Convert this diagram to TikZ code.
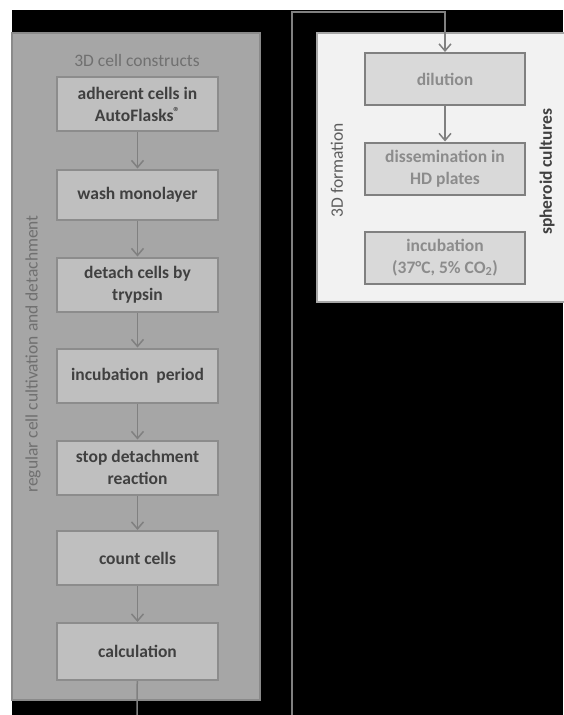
\documentclass[tikz,border=0pt]{standalone}
\usepackage{fontspec}
\setmainfont{Carlito}
\usetikzlibrary{arrows.meta}
\definecolor{leftfill}{HTML}{A6A6A6}
\definecolor{leftline}{HTML}{8A8A8A}
\definecolor{boxfill}{HTML}{BFBFBF}
\definecolor{boxline}{HTML}{8C8C8C}
\definecolor{darktext}{HTML}{404040}
\definecolor{headtext}{HTML}{707070}
\definecolor{rightfill}{HTML}{F2F2F2}
\definecolor{rightline}{HTML}{A6A6A6}
\definecolor{lightbox}{HTML}{D9D9D9}
\definecolor{lightline}{HTML}{808080}
\definecolor{lighttext}{HTML}{8C8C8C}
\definecolor{flowline}{HTML}{808080}
\begin{document}
\begin{tikzpicture}[x=1pt,y=-1pt,
    >={Straight Barb[length=7pt,width=12pt]},
    boxfont/.style={font=\fontsize{17.5}{22}\selectfont\bfseries},
    stepbox/.style={boxfont, draw=boxline, fill=boxfill, line width=2pt,
      minimum width=161pt, minimum height=54pt, inner sep=0pt,
      align=center, text=darktext},
    spherebox/.style={stepbox, draw=lightline, fill=lightbox, text=lighttext,
      minimum width=160pt, minimum height=52pt},
    sidelabel/.style={font=\fontsize{17.5}{22}\selectfont, inner sep=0pt},
    flow/.style={draw=flowline, line width=1.5pt}]
  \useasboundingbox (0,0) rectangle (563,715);
  % page edge and background
  \fill[white] (0,0) rectangle (563,715);
  \fill[black] (12,10) rectangle (563,715);
  % panels
  \draw[draw=leftline, fill=leftfill, line width=2pt] (12,33) rectangle (260,700);
  \draw[draw=rightline, fill=rightfill, line width=2pt] (317,33) rectangle (575,302);
  \node[sidelabel, text=headtext] (cellhead) at (137,60) {3D cell constructs};
  \node[sidelabel, text=headtext, font=\fontsize{17.5}{22}\selectfont, rotate=90] (cultlabel) at (33,354) {regular cell cultivation and detachment};
  \node[sidelabel, text=darktext!85!white, rotate=90] (formlabel) at (337,170) {3D formation};
  \node[sidelabel, text=darktext, font=\fontsize{17.5}{22}\selectfont\bfseries, rotate=90] (spherelabel) at (547,172) {spheroid cultures};
  % left chain
  \node[stepbox] (adherent) at (137.5,104) {adherent cells in\\AutoFlasks\raisebox{0.5ex}{\fontsize{13}{13}\selectfont ®}};
  \node[stepbox, minimum height=50pt] (wash) at (137.5,194.5) {wash monolayer};
  \node[stepbox] (detach) at (137.5,284.5) {detach cells by\\trypsin};
  \node[stepbox] (incper) at (137.5,375.5) {incubation~~period};
  \node[stepbox] (stopreact) at (137.5,467.5) {stop detachment\\reaction};
  \node[stepbox] (count) at (137.5,558) {count cells};
  \node[stepbox, minimum height=57pt] (calc) at (137.5,651.5) {calculation};
  \draw[flow, ->] (adherent) -- (wash);
  \draw[flow, ->] (wash) -- (detach);
  \draw[flow, ->] (detach) -- (incper);
  \draw[flow, ->] (incper) -- (stopreact);
  \draw[flow, ->] (stopreact) -- (count);
  \draw[flow, ->] (count) -- (calc);
  % right chain
  \node[spherebox] (dilution) at (445,79) {dilution};
  \node[spherebox] (dissem) at (445,168.5) {dissemination in\\HD plates};
  \node[spherebox] (incub) at (445,257.5) {incubation\\(37°C, 5\% CO\textsubscript{2})};
  \draw[flow, ->] (dilution) -- (dissem);
  % link between the panels
  \coordinate (leftout) at (137,716);
  \coordinate (rightin) at (292,716);
  \coordinate (bend) at (292,12);
  \draw[flow] (calc) -- (leftout);
  \draw[flow, ->] (rightin) -- (bend) -| (dilution);
\end{tikzpicture}
\end{document}
